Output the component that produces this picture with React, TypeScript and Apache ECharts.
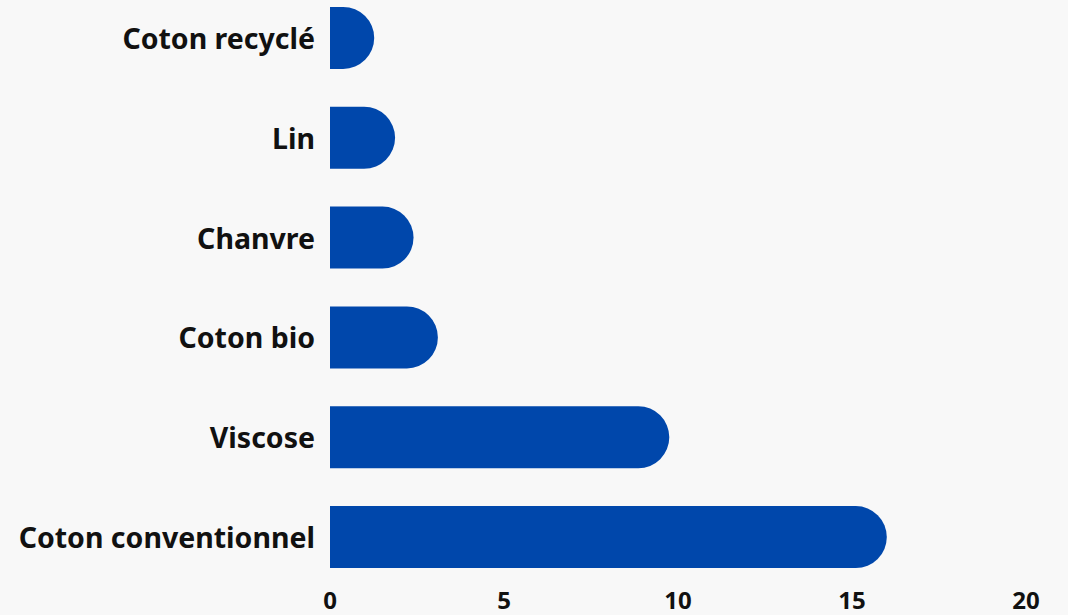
import React, { useEffect, useRef } from "react";
import * as echarts from "echarts";

const categories = ["Coton conventionnel", "Viscose", "Coton bio", "Chanvre", "Lin", "Coton recyclé"];
const values = [16, 9.75, 3.1, 2.4, 1.87, 1.27];

export default function App() {
  const ref = useRef<HTMLDivElement>(null);
  useEffect(() => {
    const chart = echarts.init(ref.current!, undefined, { renderer: "svg" });
    chart.setOption({
      animation: false,
      backgroundColor: "#f8f8f8",
      grid: { left: 330, right: 42, top: 0, bottom: 28, containLabel: false },
      xAxis: {
        type: "value",
        min: 0,
        max: 20,
        interval: 5,
        axisLine: { show: false },
        axisTick: { show: false },
        splitLine: { show: false },
        axisLabel: {
          color: "#111",
          fontFamily: "Noto Sans",
          fontWeight: "bold",
          fontSize: 24,
          lineHeight: 24,
          margin: 0,
        },
      },
      yAxis: {
        type: "category",
        data: categories,
        axisLine: { show: false },
        axisTick: { show: false },
        axisLabel: {
          color: "#111",
          fontFamily: "Noto Sans",
          fontWeight: "bold",
          fontSize: 28.5,
          margin: 15,
        },
      },
      series: [
        {
          type: "bar",
          data: values,
          barWidth: 62,
          itemStyle: { color: "#0047ab", borderRadius: [0, 31, 31, 0] },
        },
      ],
    });
    return () => chart.dispose();
  }, []);
  return (
    <div style={{ position: "fixed", left: 0, top: 0, width: 1068, height: 615, overflow: "hidden", background: "#f8f8f8" }}>
      <div ref={ref} style={{ position: "absolute", left: 0, top: -12, width: 1068, height: 627 }} />
    </div>
  );
}
